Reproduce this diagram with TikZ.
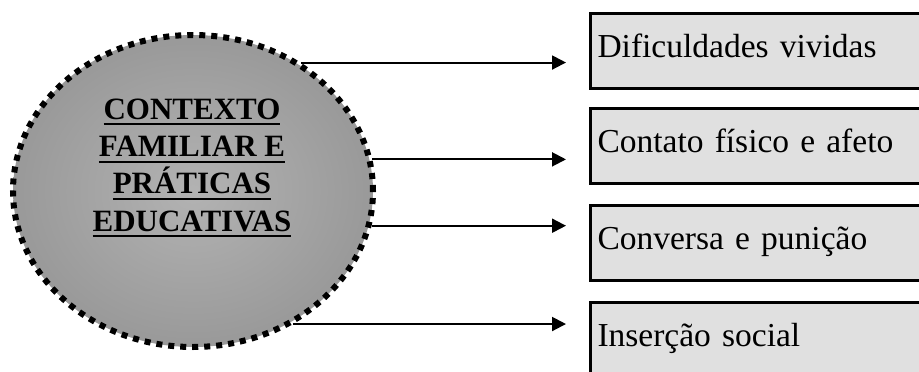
\documentclass[tikz,border=0pt]{standalone}
\usepackage{fontspec}
\setmainfont{Liberation Serif}
\usetikzlibrary{shapes.geometric,arrows.meta}

% underline drawn as a rule under the whole word
\newcommand{\ulword}[1]{\leavevmode\setbox0=\hbox{#1}\rlap{\rule[-6pt]{\wd0}{2pt}}\box0}

\tikzset{
  hub/.style={ellipse, draw=black, line width=6pt,
    dash pattern=on 6pt off 6pt,
    inner color=black!30, outer color=black!40,
    minimum width=360pt, minimum height=312pt, inner sep=0pt},
  hubtext/.style={align=center, inner sep=0pt,
    font=\fontsize{31}{37.3}\selectfont\bfseries},
  itembox/.style={draw=black, line width=3pt, fill=black!12,
    anchor=west, minimum width=360pt, minimum height=75pt,
    text width=346pt, inner xsep=7pt, align=left,
    text height=25pt, text depth=12pt,
    font=\fontsize{33.5}{38}\selectfont},
  conn/.style={draw=black, line width=2pt,
    -{Triangle[length=14pt,width=14pt]}}
}

\begin{document}
\begin{tikzpicture}[x=1pt,y=-1pt]
  \useasboundingbox (0,0) rectangle (919,372);

  % central oval
  \node[hub] (hub) at (193,191) {};
  \node[hubtext] (hublbl) at (192,168)
    {\ulword{CONTEXTO}\\ \ulword{FAMILIAR E}\\ \ulword{PRÁTICAS}\\ \ulword{EDUCATIVAS}};

  % item boxes (they run off the right edge)
  \node[itembox] (b1) at (589,50.5) {Dificuldades vividas};
  \node[itembox] (b2) at (589,145.5) {Contato físico e afeto};
  \node[itembox] (b3) at (589,243) {Conversa e punição};
  \node[itembox] (b4) at (589,340) {Inserção social};

  % arrow tips stop short of the boxes
  \coordinate (tip) at (566,0);

  \draw[conn] (hub.50.5) -- (hub.50.5 -| tip);
  \draw[conn] (hub.10.8) -- (hub.10.8 -| tip);
  \draw[conn] (hub.-11.8) -- (hub.-11.8 -| tip);
  \draw[conn] (hub.-53.5) -- (hub.-53.5 -| tip);
\end{tikzpicture}
\end{document}
